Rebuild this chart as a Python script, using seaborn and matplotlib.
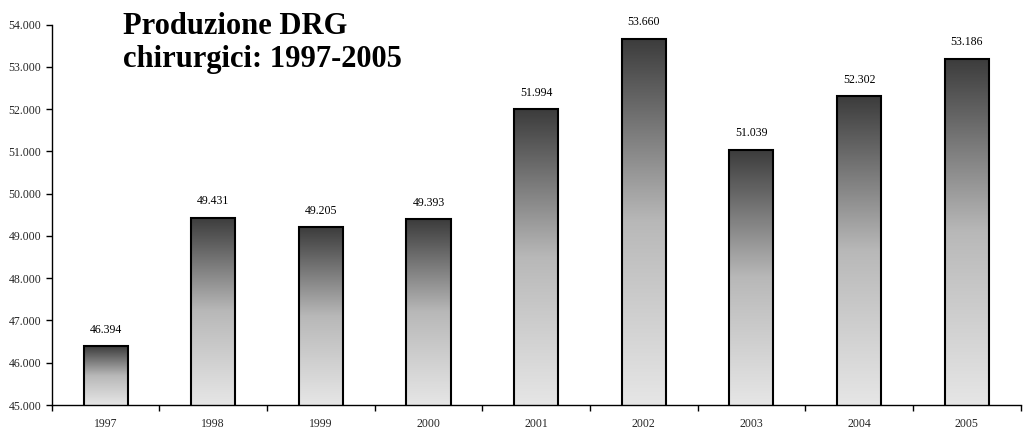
import matplotlib
matplotlib.use("Agg")
import matplotlib.pyplot as plt
import matplotlib.ticker as mticker
from matplotlib.colors import LinearSegmentedColormap
import numpy as np
import pandas as pd
import seaborn as sns

years = ["1997", "1998", "1999", "2000", "2001", "2002", "2003", "2004", "2005"]
values = [46394, 49431, 49205, 49393, 51994, 53660, 51039, 52302, 53186]
title = "Produzione DRG\nchirurgici: 1997-2005"

sns.set_theme(style="white")
plt.rcParams['font.family'] = ['Liberation Serif', 'DejaVu Serif']

df = pd.DataFrame({"anno": years, "valore": values})

fig = plt.figure(figsize=(10.35, 4.3), dpi=100)
ax = fig.add_axes([0.050, 0.058, 0.936, 0.885])

sns.barplot(data=df, x="anno", y="valore", ax=ax, width=0.41,
            color="white", edgecolor="black", linewidth=1.5, zorder=3)

ymin, ymax = 45000, 54000
ax.set_ylim(ymin, ymax)
ax.set_xlim(-0.5, len(years) - 0.5)

cmap = LinearSegmentedColormap.from_list("g", ["#e6e6e6", "#b8b8b8", "#3c3c3c"])
grad = np.linspace(0, 1, 256).reshape(-1, 1)
for p in ax.patches:
    x0, y0 = p.get_x(), p.get_y()
    w, h = p.get_width(), p.get_height()
    p.set_facecolor("none")
    y_lo = max(y0, ymin)
    im = ax.imshow(grad, cmap=cmap, aspect="auto", origin="lower",
                   extent=[x0, x0 + w, y_lo, y0 + h], zorder=2)
    im.set_clip_path(p)

for i, v in enumerate(values):
    ax.text(i, v + 250, f"{v:,}".replace(",", "."), ha="center", va="bottom",
            fontsize=8.5, color="black")

ax.yaxis.set_major_locator(mticker.MultipleLocator(1000))
ax.yaxis.set_major_formatter(mticker.FuncFormatter(lambda y, _: f"{int(y):,}".replace(",", ".")))
ax.set_xticks(range(len(years)))
ax.set_xticklabels(years)
ax.set_xticks(np.arange(-0.5, len(years), 1.0), minor=True)
ax.tick_params(axis="x", which="major", length=0, labelsize=8.5, pad=9, bottom=True)
ax.tick_params(axis="x", which="minor", length=4, width=1, direction="out", color="black",
               bottom=True)
ax.tick_params(axis="y", which="major", length=4, width=1, direction="out", color="black",
               labelsize=8.5, left=True)
ax.set_xlabel("")
ax.set_ylabel("")
for s in ["top", "right"]:
    ax.spines[s].set_visible(False)
for s in ["left", "bottom"]:
    ax.spines[s].set_color("black")
    ax.spines[s].set_linewidth(1)
ax.grid(False)

fig.text(0.119, 0.972, title, ha="left", va="top", fontsize=22, fontweight="bold",
         linespacing=1.2, color="black")

fig.savefig("out.png", dpi=100)
